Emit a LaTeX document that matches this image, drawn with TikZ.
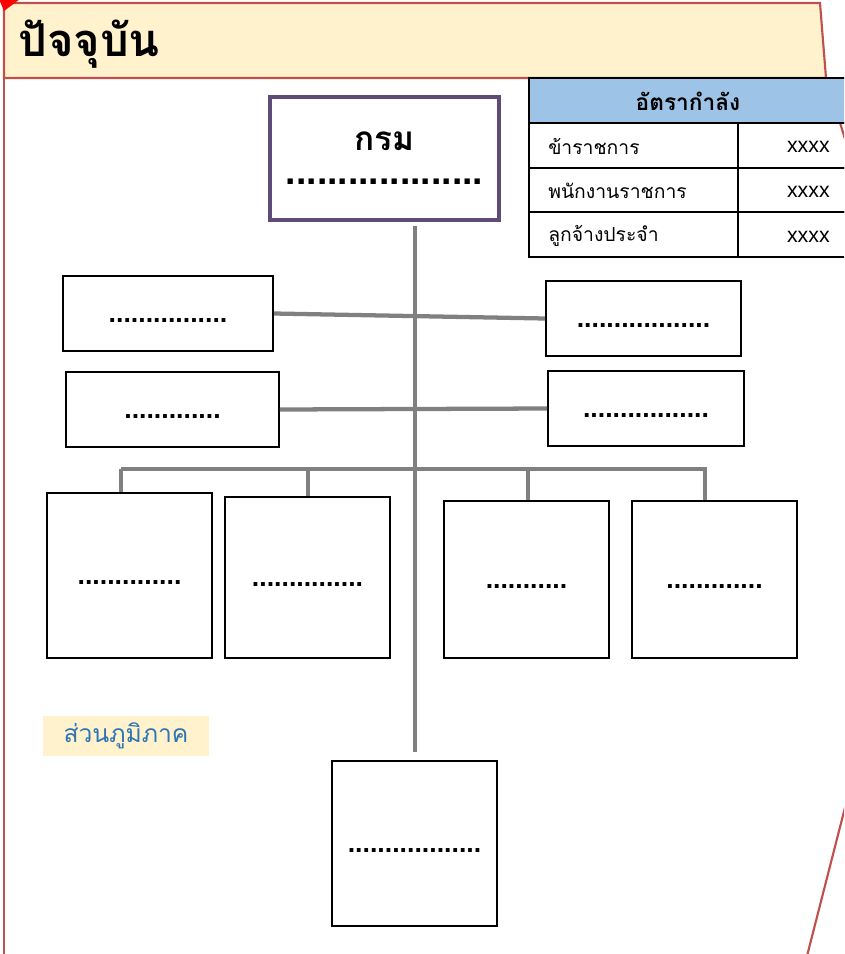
\documentclass[tikz,border=0pt]{standalone}
\usepackage{fontspec}
\newfontfamily\thaifont[Script=Thai]{Loma}
\newfontfamily\latinfont{Liberation Sans}
\usetikzlibrary{calc}
\definecolor{color_band_bg}{HTML}{FFF2CC}
\definecolor{color_page_edge}{HTML}{C0504D}
\definecolor{color_corner_mark}{HTML}{FF0000}
\definecolor{color_dept_edge}{HTML}{5F4B78}
\definecolor{color_table_head}{HTML}{9DC3E6}
\definecolor{color_link}{HTML}{808080}
\definecolor{color_region_text}{HTML}{2E75B6}
\def\px{0.75pt}
\def\tablerowheight{44.7}
% one box of the chart, given by its corners in pixels
\def\orgbox(#1)(#2,#3,#4,#5)#6{
    \node[unitbox, minimum width={(#4-#2)*\px}, minimum height={(#5-#3)*\px}] (#1) at ({(#2+#4)/2},{(#3+#5)/2}) {#6};
}
\tikzset{
    unitbox/.style={draw=black, line width=1.2pt, fill=white, inner sep=0pt, text height=14pt, text depth=0pt, font=\latinfont\bfseries\fontsize{20}{20}\selectfont},
    connector/.style={draw=color_link, line width=3.2pt},
    pageedge/.style={draw=color_page_edge, line width=1.6pt},
    tablecell/.style={draw=black, line width=1.6pt},
    celltext/.style={font=\thaifont\fontsize{14.5}{14.5}\selectfont, inner sep=0pt}
}

\begin{document}
\begin{tikzpicture}[x=\px, y=-\px]
        \clip (0,0) rectangle (844,954);
        \fill[white] (0,0) rectangle (844,954);
        % title band and page edge
        \filldraw[color_band_bg, pageedge] (4,3) -- (820,3) -- (826,78) -- (4,78) -- cycle;
        \draw[pageedge] (4,3) -- (4,956);
        \draw[pageedge] (826,78) -- (846,142);
        \draw[pageedge] (850,788) -- (807,956);
        \fill[color_corner_mark] (-1,-1) -- (20,-1) -- (4,11) -- cycle;
        \node[anchor=west, inner sep=0pt, font=\thaifont\bfseries\fontsize{34}{34}\selectfont] (title) at (18,44) {ปัจจุบัน};

        % manpower table
        \filldraw[fill=color_table_head, tablecell] (529,78) rectangle (850,123);
        \node[celltext, font=\thaifont\bfseries\fontsize{17}{17}\selectfont] (rate_head) at (688,101) {อัตรากำลัง};
        \foreach \i/\label in {1/ข้าราชการ, 2/พนักงานราชการ, 3/ลูกจ้างประจำ}{
            \draw[tablecell] (529,{123+(\i-1)*\tablerowheight}) rectangle (738,{123+\i*\tablerowheight});
            \draw[tablecell] (738,{123+(\i-1)*\tablerowheight}) rectangle (850,{123+\i*\tablerowheight});
            \node[celltext, anchor=west] (rate_name\i) at (548,{124+(\i-0.5)*\tablerowheight}) {\label};
            \node[celltext, anchor=east, font=\latinfont\fontsize{16}{16}\selectfont] (rate_num\i) at (830,{125+(\i-0.5)*\tablerowheight}) {xxxx};
        }

        % department
        \node[draw=color_dept_edge, line width=2.4pt, fill=white, minimum width=229*\px, minimum height=123*\px, inner sep=0pt, align=center, font=\fontsize{25}{25.5}\selectfont] (dept) at (384.5,158.5)
            {{\thaifont\bfseries กรม}\\{\latinfont\bfseries\fontsize{28}{25.5}\selectfont ...................}};

        % units
        \orgbox(l1)(63,276,273,351){................}
        \orgbox(r1)(546,281,741,356){..................}
        \orgbox(l2)(66,372,279,447){.............}
        \orgbox(r2)(548,371,744,446){.................}
        \orgbox(b1)(47,493,212,658){..............}
        \orgbox(b2)(225,497,390,658){...............}
        \orgbox(b3)(444,501,609,658){...........}
        \orgbox(b4)(632,501,797,658){.............}
        \orgbox(b5)(332,761,497,926){..................}

        % links
        \coordinate (trunk_top) at (415,226);
        \coordinate (trunk_end) at (415,752);
        \coordinate (bus_l) at (121,469);
        \coordinate (bus_r) at (707,469);
        \draw[connector] (trunk_top) -- (trunk_end);
        \draw[connector] (l1.east) -- (r1.west);
        \draw[connector] (l2.east) -- (r2.west);
        \draw[connector] (bus_l) -- (bus_r);
        \foreach \name/\x in {b1/121, b2/308, b3/528, b4/705}
            \draw[connector] (\x,469) -- (\x,469 |- \name.north);

        % regional label
        \node[fill=color_band_bg, minimum width=166*\px, minimum height=40*\px, inner sep=0pt, text=color_region_text, font=\thaifont\fontsize{18.5}{18.5}\selectfont] (region) at (126,736) {ส่วนภูมิภาค};
    \end{tikzpicture}
\end{document}
